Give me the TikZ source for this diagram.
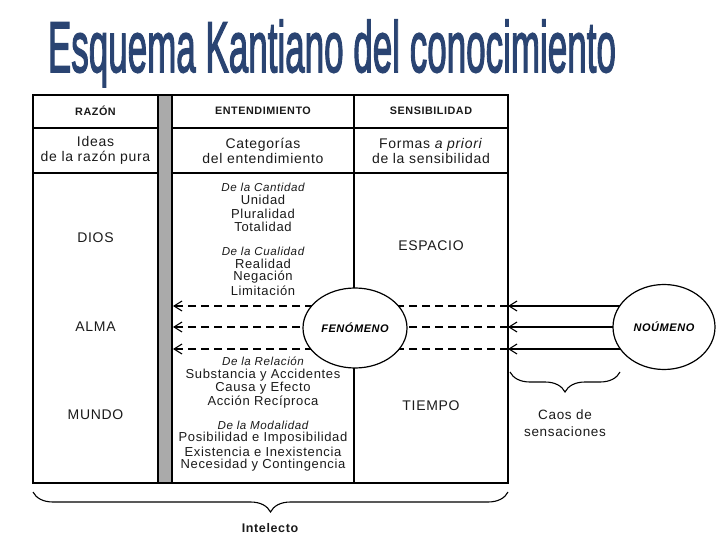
\documentclass[tikz,border=0pt]{standalone}
\usepackage{fontspec}
\setmainfont{Liberation Sans}[LetterSpace=5]
\newfontfamily\titlefont{Liberation Sans}[FakeBold=2.5]
\usetikzlibrary{shapes.geometric,arrows.meta,decorations.pathreplacing}
\definecolor{titleblue}{HTML}{2A4472}
\definecolor{bargray}{HTML}{AAAAAA}
\definecolor{txt}{HTML}{1A1A1A}
\tikzset{
 hdr/.style={font=\fontsize{10.8}{12}\selectfont\bfseries, inner sep=0, text=txt},
 big/.style={font=\fontsize{14}{15}\selectfont, align=center, inner sep=0, text=txt},
 cat/.style={font=\fontsize{13}{13}\selectfont, inner sep=0, text=txt},
 sub/.style={font=\fontsize{11.6}{13}\selectfont\itshape, inner sep=0, text=txt},
 ell/.style={ellipse, draw, fill=white, line width=1.2pt, inner sep=0, font=\fontsize{11}{13}\selectfont\bfseries\itshape},
 tbl/.style={line width=1.3pt},
 arr/.style={line width=1.1pt, -{Straight Barb[length=8pt,width=10pt]}},
 dsh/.style={arr, dash pattern=on 8pt off 5pt},
 brc/.style={decorate, decoration={brace, mirror, amplitude=20pt}, line width=1.1pt},
}
\begin{document}
\begin{tikzpicture}[x=1pt,y=-1pt]
\useasboundingbox (0,0) rectangle (720,540);
% title
\node[anchor=base, text=titleblue, inner sep=0] (title) at (332,72)
  {\scalebox{0.875}[1.8]{\titlefont\fontsize{40}{40}\selectfont Esquema Kantiano del conocimiento}};
% table
\draw[tbl] (33,95) rectangle (508,483);
\draw[tbl] (33,128) -- (508,128);
\draw[tbl] (33,173) -- (508,173);
\draw[tbl] (354,95) -- (354,483);
\draw[tbl, fill=bargray] (158,95) rectangle (172,483);
% headers
\node[hdr] (h1) at (95.5,111) {RAZÓN};
\node[hdr] (h2) at (263,111) {ENTENDIMIENTO};
\node[hdr] (h3) at (431,111) {SENSIBILIDAD};
\node[big] (s1) at (95.5,150.5) {Ideas\\de la razón pura};
\node[big] (s2) at (263,150.5) {Categorías\\del entendimiento};
\node[big] (s3) at (431,150.5) {Formas \textit{a priori}\\de la sensibilidad};
% left column
\node[big] (dios) at (95.5,238) {DIOS};
\node[big] (alma) at (95.5,327) {ALMA};
\node[big] (mundo) at (95.5,415) {MUNDO};
% right column
\node[big] (espacio) at (431,246) {ESPACIO};
\node[big] (tiempo) at (431,406) {TIEMPO};
% categories
\node[sub] (c1) at (263,187) {De la Cantidad};
\node[cat] (c2) at (263,200) {Unidad};
\node[cat] (c3) at (263,214) {Pluralidad};
\node[cat] (c4) at (263,227) {Totalidad};
\node[sub] (c5) at (263,251) {De la Cualidad};
\node[cat] (c6) at (263,264) {Realidad};
\node[cat] (c7) at (263,277) {Negación};
\node[cat] (c8) at (263,291) {Limitación};
\node[sub] (c9) at (263,361) {De la Relación};
\node[cat] (c10) at (263,375) {Substancia y Accidentes};
\node[cat] (c11) at (263,388) {Causa y Efecto};
\node[cat] (c12) at (263,402) {Acción Recíproca};
\node[sub] (c13) at (263,425) {De la Modalidad};
\node[cat] (c14) at (263,438) {Posibilidad e Imposibilidad};
\node[cat] (c15) at (263,452) {Existencia e Inexistencia};
\node[cat] (c16) at (263,465) {Necesidad y Contingencia};
% arrows
\coordinate (r1) at (508,306);
\coordinate (r2) at (508,327);
\coordinate (r3) at (508,349);
\coordinate (l1) at (173,306);
\coordinate (l2) at (173,327);
\coordinate (l3) at (173,349);
\coordinate (n1) at (660,306);
\coordinate (n2) at (660,327);
\coordinate (n3) at (660,349);
\draw[arr] (n1) -- (r1);
\draw[arr] (n2) -- (r2);
\draw[arr] (n3) -- (r3);
\draw[dsh] (r1) -- (l1);
\draw[dsh] (r2) -- (l2);
\draw[dsh] (r3) -- (l3);
% ellipses
\node[ell, minimum width=104pt, minimum height=80pt] (fen) at (355,328) {FENÓMENO};
\node[ell, minimum width=102pt, minimum height=85pt] (nou) at (664,327) {NOÚMENO};
% braces
\coordinate (b1) at (510,372);
\coordinate (b2) at (620,372);
\draw[brc] (b1) -- (b2);
\node[big, font=\fontsize{13.5}{16.5}\selectfont] (caos) at (565,423) {Caos de\\sensaciones};
\coordinate (b3) at (33,492);
\coordinate (b4) at (508,492);
\draw[brc] (b3) -- (b4);
\node[hdr, font=\fontsize{12.5}{14}\selectfont\bfseries] (intel) at (270,528) {Intelecto};
\end{tikzpicture}
\end{document}
